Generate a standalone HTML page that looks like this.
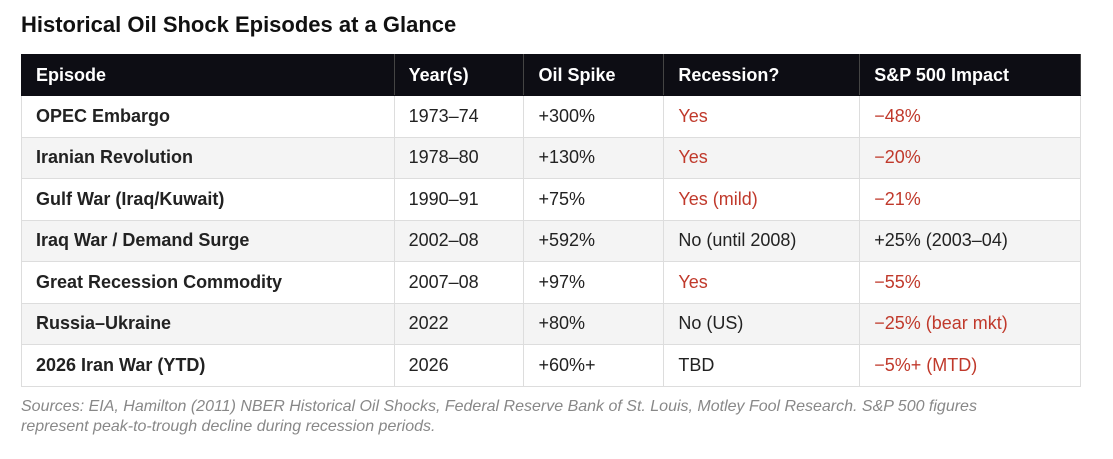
<!DOCTYPE html>
<html><head><meta charset="utf-8"><style>
body{margin:0;width:1113px;height:459px;background:#fff;font-family:"Liberation Sans",Arial,sans-serif;position:relative;overflow:hidden}
h1{position:absolute;left:21px;top:12px;margin:0;font-size:22px;font-weight:bold;color:#111}
table{position:absolute;left:21px;top:54px;border-collapse:collapse;width:1060px;font-size:18px;color:#222}
td,th{height:41.5px;padding:0 0 0 14px;text-align:left;border:1px solid #ddd;box-sizing:border-box}
th{background:#0d0d14;color:#fff;font-weight:bold;height:41px;border-color:#0d0d14;border-right:1px solid #444}
tr:nth-child(odd) td{background:#f4f4f4}
td:first-child{font-weight:bold}
.r{color:#c0392b}
.f{position:absolute;left:21px;top:397px;font-size:16px;font-style:italic;color:#888;line-height:20px;width:1015px}
</style></head><body>
<h1>Historical Oil Shock Episodes at a Glance</h1>
<table>
<colgroup><col style="width:373px"><col style="width:130px"><col style="width:140px"><col style="width:196px"><col style="width:221px"></colgroup>
<tr><th>Episode</th><th>Year(s)</th><th>Oil Spike</th><th>Recession?</th><th>S&amp;P 500 Impact</th></tr>
<tr><td>OPEC Embargo</td><td>1973–74</td><td>+300%</td><td class="r">Yes</td><td class="r">−48%</td></tr>
<tr><td>Iranian Revolution</td><td>1978–80</td><td>+130%</td><td class="r">Yes</td><td class="r">−20%</td></tr>
<tr><td>Gulf War (Iraq/Kuwait)</td><td>1990–91</td><td>+75%</td><td class="r">Yes (mild)</td><td class="r">−21%</td></tr>
<tr><td>Iraq War / Demand Surge</td><td>2002–08</td><td>+592%</td><td>No (until 2008)</td><td>+25% (2003–04)</td></tr>
<tr><td>Great Recession Commodity</td><td>2007–08</td><td>+97%</td><td class="r">Yes</td><td class="r">−55%</td></tr>
<tr><td>Russia–Ukraine</td><td>2022</td><td>+80%</td><td>No (US)</td><td class="r">−25% (bear mkt)</td></tr>
<tr><td>2026 Iran War (YTD)</td><td>2026</td><td>+60%+</td><td>TBD</td><td class="r">−5%+ (MTD)</td></tr>
</table>
<div class="f">Sources: EIA, Hamilton (2011) NBER Historical Oil Shocks, Federal Reserve Bank of St. Louis, Motley Fool Research. S&amp;P 500 figures represent peak-to-trough decline during recession periods.</div>
</body></html>
